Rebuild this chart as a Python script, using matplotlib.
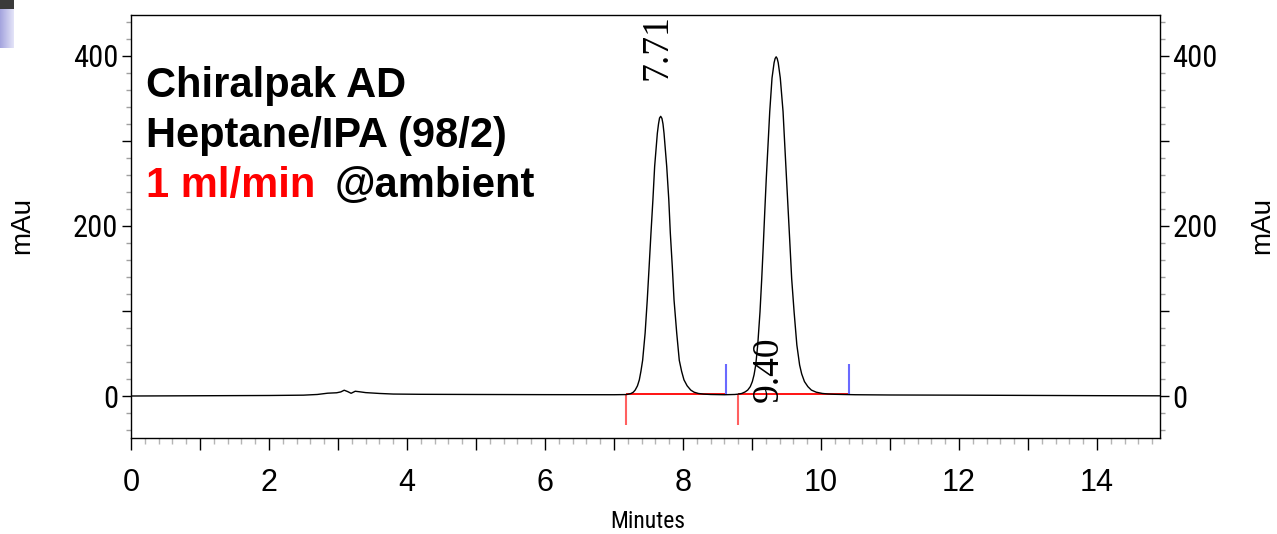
import matplotlib
matplotlib.use('Agg')
import matplotlib.pyplot as plt
import numpy as np
from matplotlib import font_manager
from matplotlib.patches import Rectangle
from matplotlib.ticker import MultipleLocator

# detector trace (minutes, mAU)
minutes = [0.00, 1.00, 2.00, 2.50, 2.70, 2.85, 2.98, 3.04, 3.09, 3.14, 3.19, 3.25,
           3.31, 3.40, 3.60, 3.80, 4.20, 5.00, 6.00, 7.00, 7.18,
           7.21, 7.247, 7.28, 7.307, 7.34, 7.367, 7.39, 7.415, 7.451, 7.482,
           7.509, 7.536, 7.564, 7.589, 7.628, 7.645, 7.66, 7.677, 7.695, 7.710,
           7.725, 7.764, 7.794, 7.816, 7.845, 7.870, 7.909, 7.946, 7.98, 8.014,
           8.06, 8.112, 8.16, 8.222, 8.30, 8.40, 8.60, 8.75,
           8.80, 8.851, 8.90, 8.938, 8.975, 9.005, 9.03, 9.054, 9.083, 9.116,
           9.141, 9.164, 9.185, 9.207, 9.232, 9.257, 9.290, 9.320, 9.335, 9.350,
           9.365, 9.380, 9.410, 9.450, 9.475, 9.500, 9.525, 9.550, 9.575, 9.610,
           9.650, 9.690, 9.72, 9.760, 9.81, 9.860, 9.93, 10.02, 10.10,
           10.20, 10.50, 11.00, 12.00, 13.00, 14.00, 14.92]
mau = [0.0, 0.3, 0.6, 1.0, 1.8, 3.3, 3.8, 4.8, 6.8, 5.2, 3.2, 5.6,
       5.0, 4.0, 3.0, 2.3, 2.0, 1.8, 1.6, 1.5, 1.7,
       2.2, 3, 4.5, 7, 12, 19, 29, 42, 74, 113,
       152, 192, 231, 270, 309, 320, 327, 329, 326.5, 320,
       309, 270, 231, 192, 152, 113, 74, 42, 29, 19,
       12, 7, 4.5, 3, 2.2, 1.8, 1.5, 1.8,
       2.2, 3, 4.8, 7, 11, 17, 25, 36.5, 60, 99,
       138, 178, 217, 256, 295, 334.5, 374, 392, 397, 399,
       397, 392, 374, 334.5, 295, 256, 217, 178, 138, 99,
       60, 36.5, 26, 17, 11, 7, 4.5, 3, 2.4,
       2.0, 1.5, 1.2, 1.0, 0.7, 0.4, 0.2]

peak_labels = ['7.71', '9.40']
baseline_start = [7.17, 8.79]
baseline_end = [8.62, 10.40]
baseline_level = [2, 2]

x_ticks = list(range(0, 15))
y_ticks = [0, 100, 200, 300, 400]
y_ticklabels = ['0', '', '200', '', '400']

title_lines = ['Chiralpak AD', 'Heptane/IPA (98/2)']
flow_text = '1 ml/min'
temp_text = '@ambient'

installed = {f.name for f in font_manager.fontManager.ttflist}
narrow = next((n for n in ['Noto Sans ExtraCondensed', 'Roboto Condensed',
                           'Liberation Sans Narrow', 'Noto Sans Condensed',
                           'Open Sans Condensed', 'Liberation Sans'] if n in installed),
              'Liberation Sans')
plt.rcParams['font.family'] = ['Liberation Sans', 'DejaVu Sans']

W, H = 1277, 534
fig = plt.figure(figsize=(W / 100, H / 100), dpi=100)
fig.patch.set_facecolor('white')
ax = fig.add_axes([131 / W, 96 / H, 1029 / W, 423 / H])

ax.plot(minutes, mau, color='black', linewidth=1.0, zorder=3)

# integration baselines and event marks
ax.hlines(baseline_level, baseline_start, baseline_end, color='#ff0000', linewidth=1.3, zorder=2)
ax.vlines(baseline_start, -34, baseline_level, color='#ff6060', linewidth=1.5, zorder=2)
ax.vlines(baseline_end, baseline_level, 38, color='#6a6aff', linewidth=1.5, zorder=2)

label_x = [7.62, 9.24]
label_y = [372, -7]
for lx, ly, txt in zip(label_x, label_y, peak_labels):
    ax.text(lx, ly, txt, rotation=90, ha='center', va='bottom',
            family='Liberation Serif', fontsize=27, zorder=4)

ax.set_xlim(0, 14.913)
ax.set_ylim(-49.4, 448.2)

ax.set_xticks(x_ticks)
ax.set_xticklabels([str(i) if i % 2 == 0 else '' for i in x_ticks])
ax.xaxis.set_minor_locator(MultipleLocator(0.2))
ax.tick_params(axis='x', which='major', direction='out', length=8.6, width=1,
               pad=13, labelsize=22)
ax.tick_params(axis='x', which='minor', direction='out', length=4.3, width=1,
               color='#b5b5b5')
for i, t in enumerate(ax.xaxis.get_major_ticks()):
    t.tick1line.set_color('black' if x_ticks[i] % 2 == 0 else '#b5b5b5')

ax.set_yticks(y_ticks)
ax.set_yticklabels(y_ticklabels)
ax.yaxis.set_minor_locator(MultipleLocator(20))
ax.tick_params(axis='y', which='both', left=True, right=True,
               labelleft=True, labelright=True, direction='out')
ax.tick_params(axis='y', which='major', length=6.5, width=1, pad=2.5, labelsize=22)
ax.tick_params(axis='y', which='minor', length=3.6, width=1, color='#a0a0a0')
for i, t in enumerate(ax.yaxis.get_major_ticks()):
    c = '#707070' if y_ticks[i] % 200 == 0 else '#b5b5b5'
    t.tick1line.set_color(c)
    t.tick2line.set_color(c)
    t.label1.set_fontfamily(narrow)
    t.label2.set_fontfamily(narrow)

for s in ax.spines.values():
    s.set_color('black')
    s.set_linewidth(1)

fig.text(648 / W, 1 - 522 / H, 'Minutes', ha='center', va='center',
         family=narrow, fontsize=17)
fig.text(22 / W, 1 - 226 / H, 'mAu', rotation=90, ha='center', va='center', fontsize=20)
fig.text(1262 / W, 1 - 226 / H, 'mAu', rotation=90, ha='center', va='center', fontsize=20)

# condition block
fig.text(146 / W, 1 - 96.7 / H, title_lines[0], fontsize=30, fontweight='bold', va='baseline')
fig.text(146 / W, 1 - 146.7 / H, title_lines[1], fontsize=30, fontweight='bold', va='baseline')
fig.text(146 / W, 1 - 196.7 / H, flow_text, fontsize=30, fontweight='bold',
         color='#ff0000', va='baseline')
fig.text(335 / W, 1 - 196.7 / H, temp_text, fontsize=30, fontweight='bold', va='baseline')

# slide corner decoration
deco = fig.add_axes([0, 1 - 48 / H, 14 / W, 39 / H])
grad = np.linspace(0, 1, 50).reshape(1, -1)
deco.imshow(grad, aspect='auto', cmap=matplotlib.colors.LinearSegmentedColormap.from_list(
    'lav', ['#a4a4de', '#e4e4f8']))
deco.axis('off')
fig.patches.append(Rectangle((0, 1 - 9 / H), 14 / W, 9 / H, transform=fig.transFigure,
                             facecolor='#3a3a3a', edgecolor='none'))

fig.savefig('out.png', dpi=100)
